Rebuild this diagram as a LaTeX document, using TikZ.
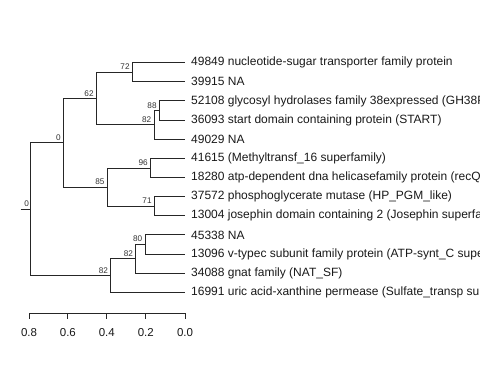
\documentclass[tikz,border=0pt]{standalone}
\usepackage{fontspec}
\setmainfont{Liberation Sans}
\begin{document}
\begin{tikzpicture}[x=1pt,y=-1pt,
  br/.style={line width=0.9pt,color=black!85},
  leaf/.style={anchor=west,inner sep=0pt,xshift=6pt,font=\fontsize{12}{14}\selectfont,text=black!90},
  bs/.style={anchor=south east,inner sep=0pt,font=\fontsize{8.2}{9}\selectfont,text=black!80},
  tk/.style={font=\fontsize{11.5}{13}\selectfont,text=black!90}]
\useasboundingbox (0,0) rectangle (480,384);
\clip (0,0) rectangle (480,384);
% leaf tips
\coordinate (t0) at (185,62.7);
\coordinate (t1) at (185,81.8);
\coordinate (t2) at (185,100.9);
\coordinate (t3) at (185,120.1);
\coordinate (t4) at (185,139.2);
\coordinate (t5) at (185,158.4);
\coordinate (t6) at (185,177.5);
\coordinate (t7) at (185,196.6);
\coordinate (t8) at (185,215.7);
\coordinate (t9) at (185,234.9);
\coordinate (t10) at (185,254.0);
\coordinate (t11) at (185,273.1);
\coordinate (t12) at (185,292.3);
\node[leaf] (l0) at (t0) {49849 nucleotide-sugar transporter family protein};
\node[leaf] (l1) at (t1) {39915 NA};
\node[leaf] (l2) at (t2) {52108 glycosyl hydrolases family 38expressed (GH38P-AlphaMan superfamily)};
\node[leaf] (l3) at (t3) {36093 start domain containing protein (START)};
\node[leaf] (l4) at (t4) {49029 NA};
\node[leaf] (l5) at (t5) {41615 (Methyltransf\_16 superfamily)};
\node[leaf] (l6) at (t6) {18280 atp-dependent dna helicasefamily protein (recQ superfamily)};
\node[leaf] (l7) at (t7) {37572 phosphoglycerate mutase (HP\_PGM\_like)};
\node[leaf] (l8) at (t8) {13004 josephin domain containing 2 (Josephin superfamily)};
\node[leaf] (l9) at (t9) {45338 NA};
\node[leaf] (l10) at (t10) {13096 v-typec subunit family protein (ATP-synt\_C superfamily)};
\node[leaf] (l11) at (t11) {34088 gnat family (NAT\_SF)};
\node[leaf] (l12) at (t12) {16991 uric acid-xanthine permease (Sulfate\_transp superfamily)};
% internal nodes
\coordinate (n72) at (132.3,72.25);
\coordinate (n88) at (159.3,110.5);
\coordinate (n82a) at (154,124.85);
\coordinate (n62) at (96.3,98.55);
\coordinate (n96) at (150.5,167.95);
\coordinate (n71) at (154.3,206.15);
\coordinate (n85) at (107.2,187.05);
\coordinate (n0a) at (63.3,142.8);
\coordinate (n80) at (145,244.45);
\coordinate (n82b) at (135.7,258.8);
\coordinate (n82c) at (110.7,275.55);
\coordinate (root) at (30.7,209.2);
\coordinate (stub) at (20.7,209.2);
% branches
\draw[br] (n72) |- (t0); \draw[br] (n72) |- (t1);
\draw[br] (n88) |- (t2); \draw[br] (n88) |- (t3);
\draw[br] (n82a) |- (n88); \draw[br] (n82a) |- (t4);
\draw[br] (n62) |- (n72); \draw[br] (n62) |- (n82a);
\draw[br] (n96) |- (t5); \draw[br] (n96) |- (t6);
\draw[br] (n71) |- (t7); \draw[br] (n71) |- (t8);
\draw[br] (n85) |- (n96); \draw[br] (n85) |- (n71);
\draw[br] (n0a) |- (n62); \draw[br] (n0a) |- (n85);
\draw[br] (n80) |- (t9); \draw[br] (n80) |- (t10);
\draw[br] (n82b) |- (n80); \draw[br] (n82b) |- (t11);
\draw[br] (n82c) |- (n82b); \draw[br] (n82c) |- (t12);
\draw[br] (root) |- (n0a); \draw[br] (root) |- (n82c);
\draw[br] (stub) -- (root);
% support labels
\node[bs] at ([xshift=-2.5pt,yshift=2.2pt]n72) {72};
\node[bs] at ([xshift=-2.5pt,yshift=2.2pt]n88) {88};
\node[bs] at ([xshift=-2.5pt,yshift=2.2pt]n82a) {82};
\node[bs] at ([xshift=-2.5pt,yshift=2.2pt]n62) {62};
\node[bs] at ([xshift=-2.5pt,yshift=2.2pt]n96) {96};
\node[bs] at ([xshift=-2.5pt,yshift=2.2pt]n71) {71};
\node[bs] at ([xshift=-2.5pt,yshift=2.2pt]n85) {85};
\node[bs] at ([xshift=-2.5pt,yshift=2.2pt]n0a) {0};
\node[bs] at ([xshift=-2.5pt,yshift=2.2pt]n80) {80};
\node[bs] at ([xshift=-2.5pt,yshift=2.2pt]n82b) {82};
\node[bs] at ([xshift=-2.5pt,yshift=2.2pt]n82c) {82};
\node[bs] at ([xshift=-1.5pt,yshift=2.2pt]root) {0};
% axis
\coordinate (a0) at (29,313);
\coordinate (a1) at (67.9,313);
\coordinate (a2) at (106.8,313);
\coordinate (a3) at (145.8,313);
\coordinate (a4) at (185,313);
\draw[br] (a0) -- (a4);
\foreach \p/\t in {a0/0.8,a1/0.6,a2/0.4,a3/0.2,a4/0.0}{
  \draw[br] (\p) -- ++(0,5.5);
  \node[tk] at ([yshift=-20pt]\p) {\t};
}
\end{tikzpicture}
\end{document}
